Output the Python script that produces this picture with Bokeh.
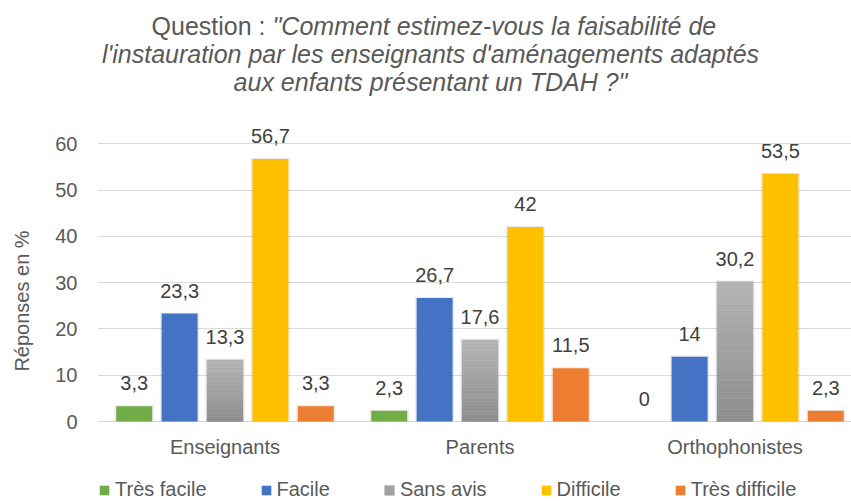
from bokeh.plotting import figure
from bokeh.models import Range1d, FixedTicker, Legend, LegendItem, ColumnDataSource
from bokeh.embed import file_html
from bokeh.resources import INLINE
from bokeh.core.properties import value

# ---- data ----
categories = ["Enseignants", "Parents", "Orthophonistes"]
series_names = ["Très facile", "Facile", "Sans avis", "Difficile", "Très difficile"]
tres_facile = [3.3, 2.3, 0]
facile = [23.3, 26.7, 14]
sans_avis = [13.3, 17.6, 30.2]
difficile = [56.7, 42, 53.5]
tres_difficile = [3.3, 11.5, 2.3]
y_ticks = [0, 10, 20, 30, 40, 50, 60]
series_values = [tres_facile, facile, sans_avis, difficile, tres_difficile]
colors = ["#70AD47", "#4472C4", "#A5A5A5", "#FFC000", "#ED7D31"]
title_normal = "Question :"
title_lines = ["\"Comment estimez-vous la faisabilité de",
               "l'instauration par les enseignants d'aménagements adaptés",
               "aux enfants présentant un TDAH ?\""]
y_title = "Réponses en %"

FONT = "Liberation Sans"
TXT = "#595959"
TITLE_SIZE = "25px"

# ---- layout constants (pixels) ----
W, H = 851, 501
FRAME_LEFT = 97
ZERO_Y = 421                               # pixel row of the value 0
PX_PER_UNIT = 277.8 / 60.0                 # 0..60 spans 278 px
cat_step = 255.0
bar_step = 0.178
bar_w = 0.141

p = figure(width=W, height=H, output_backend="svg", toolbar_location=None,
           x_axis_type=None,
           x_range=Range1d(0, (W - FRAME_LEFT) / cat_step),
           y_range=Range1d(-(H - ZERO_Y) / PX_PER_UNIT, ZERO_Y / PX_PER_UNIT),
           min_border_left=FRAME_LEFT, min_border_right=0, min_border_top=0,
           min_border_bottom=0)
p.outline_line_color = None
p.background_fill_color = "white"
p.border_fill_color = "white"

p.yaxis.ticker = FixedTicker(ticks=y_ticks)
p.yaxis.axis_line_color = None
p.yaxis.major_tick_line_color = None
p.yaxis.major_tick_out = 0
p.yaxis.major_tick_in = 0
p.yaxis.minor_tick_line_color = None
p.yaxis.major_label_standoff = 20
p.yaxis.major_label_text_font = FONT
p.yaxis.major_label_text_font_size = "20px"
p.yaxis.major_label_text_color = TXT
# axis title, padded so that it sits where the reference puts it
p.yaxis.axis_label = y_title + "\u00a0" * 18
p.yaxis.axis_label_standoff = 19
p.yaxis.axis_label_text_font = FONT
p.yaxis.axis_label_text_font_size = "20px"
p.yaxis.axis_label_text_font_style = "normal"
p.yaxis.axis_label_text_color = TXT

p.ygrid.grid_line_color = "#D9D9D9"
p.ygrid.grid_line_width = 1

cat_pos = [i + 0.5 for i in range(len(categories))]
# category labels under the baseline
p.text(x=cat_pos, y=[0] * len(cat_pos), text=categories, text_align="center",
       text_baseline="alphabetic", y_offset=25, text_font=value(FONT),
       text_font_size="20px", text_color=TXT)

legend_items = []
for j, (name, vals, col) in enumerate(zip(series_names, series_values, colors)):
    xs = [c + (j - 2) * bar_step for c in cat_pos]
    # soft shadow
    p.vbar(x=xs, top=[v + 0.25 if v > 0 else 0 for v in vals], bottom=0, width=bar_w + 0.014,
           fill_color="#000000", fill_alpha=0.07, line_color=None)
    if name == "Sans avis":
        n = 24
        sx, sb, st, sc = [], [], [], []
        for x, v in zip(xs, vals):
            for k in range(n):
                f = (k + 0.5) / n
                g = int(round(0x8E + (0xB3 - 0x8E) * f))
                sx.append(x)
                sb.append(v * k / n)
                st.append(v * (k + 1) / n)
                sc.append("#%02x%02x%02x" % (g, g, g))
        src = ColumnDataSource(dict(x=sx, bottom=sb, top=st, color=sc))
        r = p.vbar(x="x", bottom="bottom", top="top", width=bar_w, fill_color="color",
                   line_color="color", line_width=0.5, source=src)
        legend_items.append(LegendItem(label=name, renderers=[r], index=n // 2))
    else:
        r = p.vbar(x=xs, top=vals, bottom=0, width=bar_w, fill_color=col, line_color=None)
        legend_items.append(LegendItem(label=name, renderers=[r]))
    labels = [("%g" % v).replace(".", ",") for v in vals]
    p.text(x=xs, y=vals, text=labels, text_align="center", text_baseline="alphabetic",
           y_offset=-23, text_font=value(FONT), text_font_size="20px", text_color="#404040")

legend = Legend(items=legend_items, location=(1, 0), orientation="horizontal",
                glyph_width=12, glyph_height=12, label_standoff=5, spacing=53, padding=0,
                label_text_font=FONT, label_text_font_size="20px",
                label_text_color=TXT, background_fill_alpha=0, border_line_color=None)
p.add_layout(legend)

# chart title, placed in pixels from the frame's left edge / the zero line
p.text(x=[0], y=[0], text=[title_normal], x_offset=168, y_offset=-396,
       text_align="right", text_baseline="alphabetic", text_font=value(FONT),
       text_font_size=TITLE_SIZE, text_color=TXT)
p.text(x=[0], y=[0], text=[title_lines[0]], x_offset=175, y_offset=-396,
       text_align="left", text_baseline="alphabetic", text_font=value(FONT),
       text_font_style="italic", text_font_size=TITLE_SIZE, text_color=TXT)
p.text(x=[0], y=[0], text=[title_lines[1]], x_offset=333, y_offset=-368,
       text_align="center", text_baseline="alphabetic", text_font=value(FONT),
       text_font_style="italic", text_font_size=TITLE_SIZE, text_color=TXT)
p.text(x=[0], y=[0], text=[title_lines[2]], x_offset=333, y_offset=-340,
       text_align="center", text_baseline="alphabetic", text_font=value(FONT),
       text_font_style="italic", text_font_size=TITLE_SIZE, text_color=TXT)

open("out.html", "w").write(file_html(p, INLINE))
